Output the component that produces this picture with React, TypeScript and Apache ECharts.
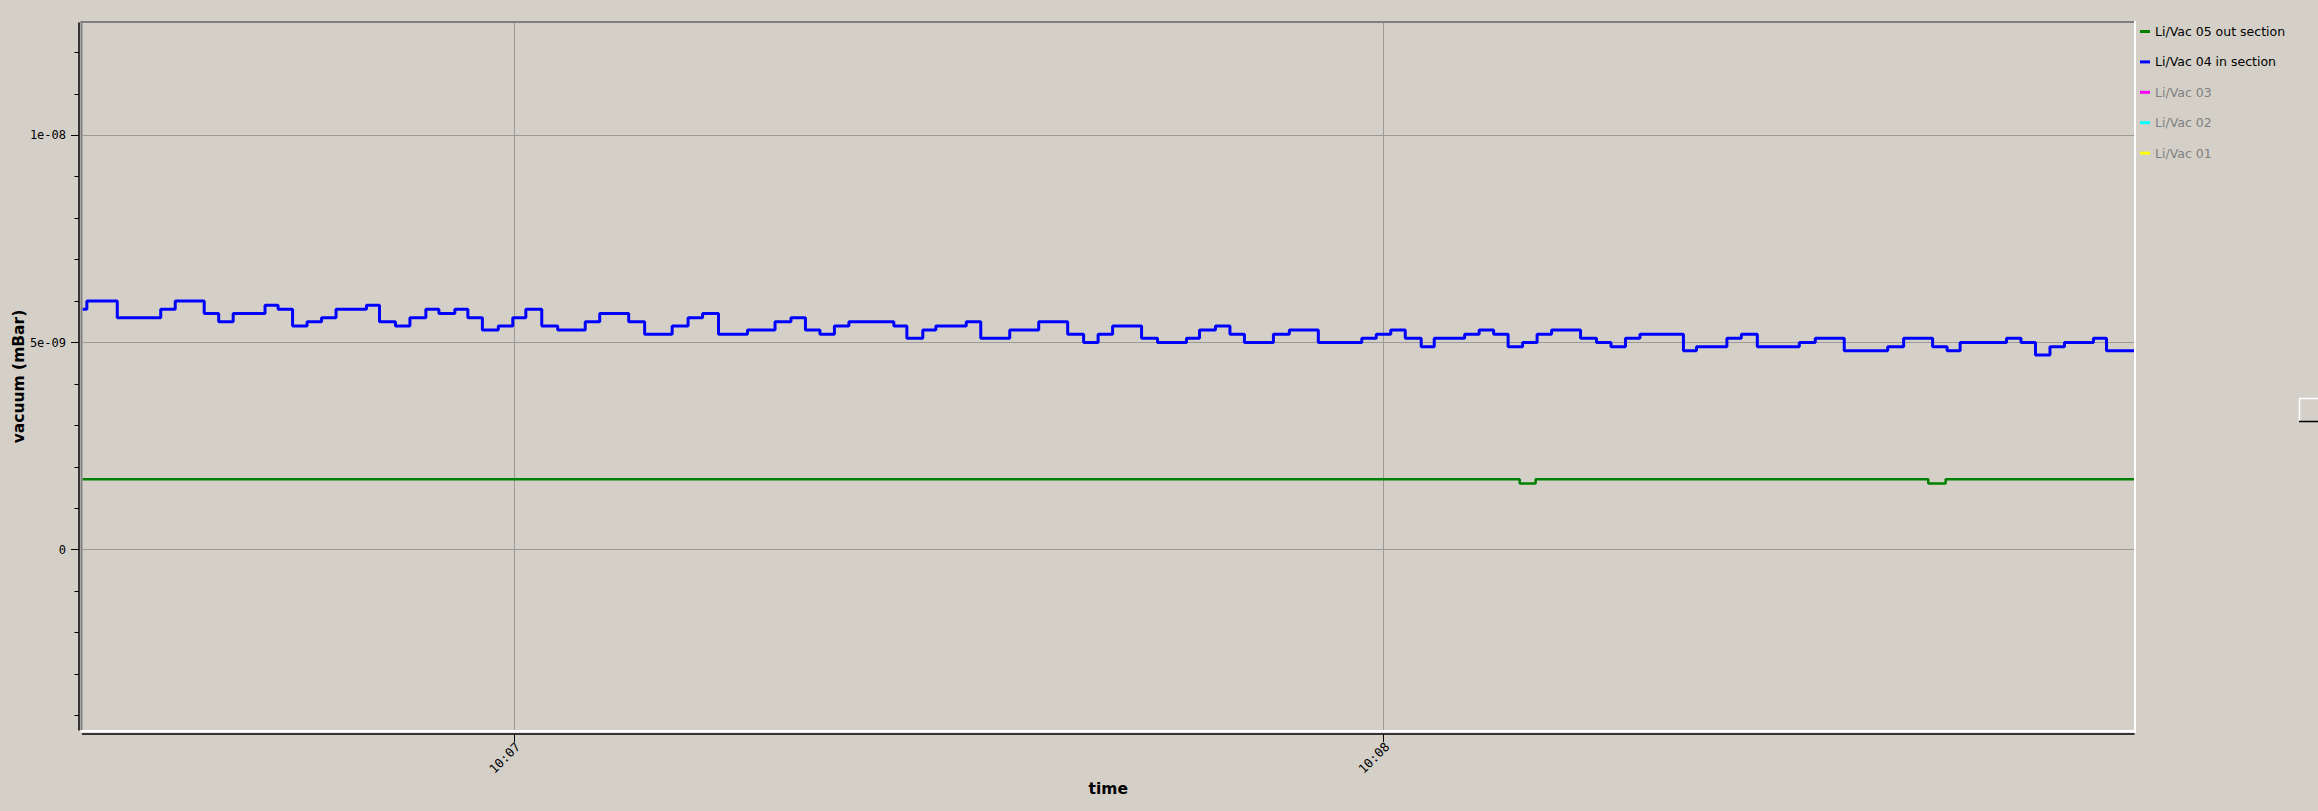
import { useEffect, useRef } from "react";
import * as echarts from "echarts";

// x values: seconds after 10:00:00
const xMin = 390.2;
const xMax = 531.8;
const xTickValues = [420, 480];
const xTickLabels = ["10:07", "10:08"];

// y values in units of 1e-9 mBar
const yMin = -4.35;
const yMax = 12.71;
const yMajorValues = [0, 5, 10];
const yMajorLabels = ["0", "5e-09", "1e-08"];
const yMinorValues = [-4, -3, -2, -1, 1, 2, 3, 4, 6, 7, 8, 9, 11, 12];

const seriesNames = ["Li/Vac 05 out section", "Li/Vac 04 in section", "Li/Vac 03", "Li/Vac 02", "Li/Vac 01"];
const seriesColors = ["#008000", "#0000ff", "#ff00ff", "#00ffff", "#ffff00"];
const seriesActive = [true, true, false, false, false];

const vac05Times = [390.2, 489.4, 490.5, 517.6, 518.8, 531.8];
const vac05Values = [1.7, 1.6, 1.7, 1.6, 1.7, 1.7];

const vac04Times = [
  390.2, 390.5, 392.6, 395.6, 396.6, 398.6, 399.6, 400.6, 402.8, 403.7,
  404.7, 405.7, 406.7, 407.7, 409.8, 410.7, 411.8, 412.8, 413.9, 414.8,
  415.9, 416.8, 417.8, 418.9, 419.9, 420.8, 421.9, 423.0, 424.9, 425.9,
  427.9, 429.0, 430.9, 432.0, 433.0, 434.1, 436.1, 438.0, 439.1, 440.1,
  441.1, 442.1, 443.1, 446.2, 447.1, 448.2, 449.1, 451.2, 452.2, 454.2,
  456.2, 458.2, 459.3, 460.3, 461.3, 463.3, 464.4, 466.4, 467.3, 468.4,
  469.4, 470.4, 472.4, 473.5, 475.5, 478.5, 479.5, 480.5, 481.5, 482.6,
  483.5, 485.6, 486.6, 487.6, 488.6, 489.6, 490.6, 491.6, 493.6, 494.7,
  495.7, 496.7, 497.7, 500.7, 501.6, 503.7, 504.7, 505.8, 508.7, 509.8,
  511.8, 514.8, 515.9, 517.9, 518.9, 519.8, 523.0, 524.0, 525.0, 526.0,
  527.0, 529.0, 529.9, 531.8,
];
const vac04Values = [
  5.8, 6.0, 5.6, 5.8, 6.0, 5.7, 5.5, 5.7, 5.9, 5.8,
  5.4, 5.5, 5.6, 5.8, 5.9, 5.5, 5.4, 5.6, 5.8, 5.7,
  5.8, 5.6, 5.3, 5.4, 5.6, 5.8, 5.4, 5.3, 5.5, 5.7,
  5.5, 5.2, 5.4, 5.6, 5.7, 5.2, 5.3, 5.5, 5.6, 5.3,
  5.2, 5.4, 5.5, 5.4, 5.1, 5.3, 5.4, 5.5, 5.1, 5.3,
  5.5, 5.2, 5.0, 5.2, 5.4, 5.1, 5.0, 5.1, 5.3, 5.4,
  5.2, 5.0, 5.2, 5.3, 5.0, 5.1, 5.2, 5.3, 5.1, 4.9,
  5.1, 5.2, 5.3, 5.2, 4.9, 5.0, 5.2, 5.3, 5.1, 5.0,
  4.9, 5.1, 5.2, 4.8, 4.9, 5.1, 5.2, 4.9, 5.0, 5.1,
  4.8, 4.9, 5.1, 4.9, 4.8, 5.0, 5.1, 5.0, 4.7, 4.9,
  5.0, 5.1, 4.8, 4.8,
];

const seriesTimes = [vac05Times, vac04Times, [], [], []];
const seriesValues = [vac05Values, vac04Values, [], [], []];
const seriesWidths = [2.5, 3, 2, 2, 2];

function lookupLabel(v: number, values: number[], labels: string[]) {
  for (let i = 0; i < values.length; i++) {
    if (Math.abs(values[i] - v) < 1e-6) return labels[i];
  }
  return "";
}

export default function App() {
  const ref = useRef<HTMLDivElement>(null);
  useEffect(() => {
    if (!ref.current) return;
    const chart = echarts.init(ref.current, null, { renderer: "svg" });
    const monoFont = "DejaVu Sans Mono";
    const sansFont = "DejaVu Sans";
    const frameColor = "#808080";
    const series: any[] = seriesNames.map((name, i) => ({
      name,
      type: "line",
      step: "end",
      showSymbol: false,
      symbol: "none",
      color: seriesColors[i],
      lineStyle: { width: seriesWidths[i], color: seriesColors[i] },
      data: (seriesTimes[i] as number[]).map((t, k) => [t, (seriesValues[i] as number[])[k]]),
      xAxisIndex: 0,
      yAxisIndex: 0,
      z: 3,
    }));
    chart.setOption({
      animation: false,
      backgroundColor: "#d4d0c8",
      grid: { left: 82.5, right: 184, top: 23, bottom: 81, containLabel: false, outerBoundsMode: "none" },
      legend: {
        orient: "vertical",
        left: 2140,
        top: 25,
        padding: 0,
        icon: "rect",
        itemWidth: 10,
        itemHeight: 3,
        itemGap: 17.4,
        textStyle: { fontFamily: sansFont, fontSize: 12.5, color: "#000" },
        data: seriesNames.map((n, i) => ({
          name: n,
          textStyle: { color: seriesActive[i] ? "#000" : "#808080" },
        })),
      },
      xAxis: {
        type: "value",
        min: xMin,
        max: xMax,
        position: "bottom",
        offset: 4,
        name: "time",
        nameLocation: "middle",
        nameGap: 47,
        nameMoveOverlap: false,
        nameTextStyle: { fontFamily: sansFont, fontSize: 15.5, fontWeight: "bold", color: "#000" },
        axisLine: { show: true, onZero: false, lineStyle: { color: "#000", width: 1.5 } },
        axisTick: { show: true, length: 8, customValues: xTickValues, lineStyle: { color: "#000", width: 1 } },
        axisLabel: {
          customValues: xTickValues,
          rotate: 45,
          margin: 7,
          verticalAlign: "top",
          lineHeight: 10,
          fontFamily: monoFont,
          fontSize: 12.5,
          color: "#000",
          formatter: (v: number) => lookupLabel(v, xTickValues, xTickLabels),
        },
        splitLine: { show: true, lineStyle: { color: "#9c9a96", width: 1 } },
      },
      yAxis: [
        {
          type: "value",
          min: yMin,
          max: yMax,
          position: "left",
          offset: 3.5,
          name: "vacuum (mBar)",
          nameLocation: "middle",
          nameGap: 52,
          nameMoveOverlap: false,
          nameTextStyle: { fontFamily: sansFont, fontSize: 15.5, fontWeight: "bold", color: "#000" },
          axisLine: { show: true, onZero: false, lineStyle: { color: "#000", width: 1.5 } },
          axisTick: { show: true, length: 8, customValues: yMajorValues, lineStyle: { color: "#000", width: 1 } },
          axisLabel: {
            customValues: yMajorValues,
            margin: 13,
            fontFamily: monoFont,
            fontSize: 12,
            color: "#000",
            formatter: (v: number) => lookupLabel(v, yMajorValues, yMajorLabels),
          },
          splitLine: { show: true, lineStyle: { color: "#9c9a96", width: 1 } },
        },
        {
          type: "value",
          min: yMin,
          max: yMax,
          position: "left",
          offset: 3.5,
          axisLine: { show: false },
          axisTick: { show: true, length: 4.5, customValues: yMinorValues, lineStyle: { color: "#000", width: 1 } },
          axisLabel: { show: false },
          splitLine: { show: false },
        },
      ],
      graphic: [
        { type: "line", z: 100, shape: { x1: 80.5, y1: 22, x2: 2135, y2: 22 }, style: { stroke: frameColor, lineWidth: 2 } },
        { type: "line", z: 100, shape: { x1: 81.5, y1: 21, x2: 81.5, y2: 731 }, style: { stroke: frameColor, lineWidth: 2 } },
        { type: "line", z: 100, shape: { x1: 2135, y1: 21, x2: 2135, y2: 732.5 }, style: { stroke: "#ffffff", lineWidth: 2 } },
        { type: "line", z: 100, shape: { x1: 80.5, y1: 731.3, x2: 2136, y2: 731.3 }, style: { stroke: "#ffffff", lineWidth: 2.5 } },
        { type: "polyline", z: 100, shape: { points: [[2299.5, 421], [2299.5, 398.5], [2318, 398.5]] }, style: { stroke: "#ffffff", lineWidth: 1.5, fill: null } },
        { type: "line", z: 100, shape: { x1: 2299, y1: 421.5, x2: 2318, y2: 421.5 }, style: { stroke: "#000000", lineWidth: 1.5 } },
      ],
      series,
    });
    return () => chart.dispose();
  }, []);
  return (
    <div
      ref={ref}
      style={{ position: "fixed", left: 0, top: 0, width: 2318, height: 811, background: "#d4d0c8" }}
    />
  );
}
